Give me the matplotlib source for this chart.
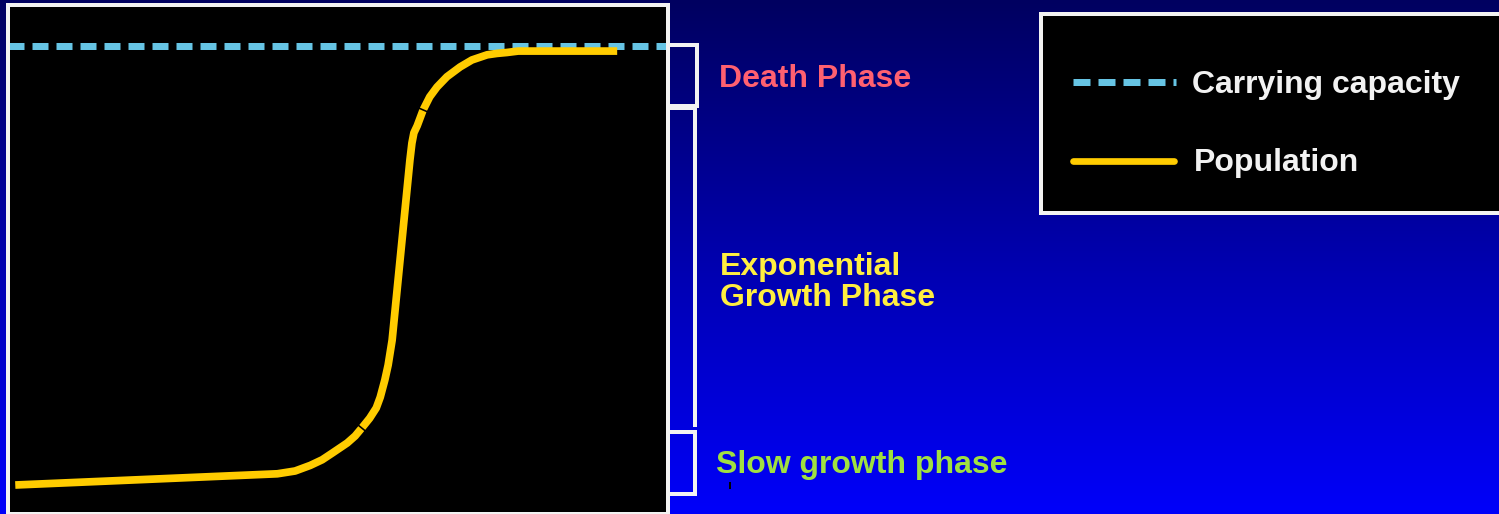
import matplotlib
import matplotlib.pyplot as plt
import matplotlib.transforms as mtransforms
import numpy as np
from matplotlib.lines import Line2D
from matplotlib.patches import Rectangle

matplotlib.use("Agg")

plt.rcParams["font.family"] = ["Liberation Sans", "DejaVu Sans"]
plt.rcParams["lines.scale_dashes"] = False

W, H = 1499, 514
PT = 72 / 100  # points per pixel at dpi=100

# population over time (arbitrary units), carrying capacity K
time = [1.1, 40.8, 43.5, 45.8, 47.6, 49.2, 51.4, 52.6, 53.6, 54.8,
        55.8, 56.4, 57.1, 57.6, 58.2, 60.9, 61.2, 61.5, 62.0, 62.9,
        63.9, 65.0, 66.5, 68.5, 70.3, 72.6, 74.1, 75.6, 77.3, 92.3]
population = [61, 85, 91, 103, 115, 130, 151, 166, 183, 204,
              226, 249, 286, 318, 371, 757, 793, 815, 830, 864,
              892, 913, 935, 956, 971, 982, 985, 987, 990, 990]
carrying_capacity = 1000
seam_points = [8, 19]  # where the curve pieces meet

# phase brackets: (top, bottom) in population units
phase_names = ["Death Phase", "Exponential\nGrowth Phase", "Slow growth phase"]
phase_bounds = [(1003, 872), (868, 189), (174, 42)]
phase_colors = ["#FF6070", "#FFEE40", "#A0E040"]

WHITE = "#F2F2F2"
YELLOW = "#FFCC00"
CYAN = "#66C4E4"


def px(x, y):
    """pixel position (from top-left) -> figure fraction"""
    return x / W, 1 - y / H


fig = plt.figure(figsize=(W / 100, H / 100), dpi=100)

# background: navy at the top fading to bright blue
bg = fig.add_axes([0, 0, 1, 1], zorder=-10)
grad = np.linspace(0, 1, 256)[:, None]
blue = 96 + grad * (250 - 96)
img = np.dstack([np.zeros_like(blue), np.zeros_like(blue), blue / 255])
bg.imshow(img, aspect="auto", extent=[0, 1, 0, 1], origin="upper")
bg.axis("off")

# ── main plot ────────────────────────────────────────────────────────────────
ax = fig.add_axes([8 / W, 1 - 513.5 / H, 660 / W, 508.2 / H])
ax.set_facecolor("black")
for s in ax.spines.values():
    s.set_color(WHITE)
    s.set_linewidth(4 * PT)
ax.set_xticks([])
ax.set_yticks([])
ax.set_xlim(0, 100)
ax.set_ylim(0, 1088)

ax.axhline(carrying_capacity, color=CYAN, lw=7 * PT,
           dashes=(16 * PT, 8 * PT), zorder=2)
ax.plot(time, population, color=YELLOW, lw=7.7 * PT,
        solid_capstyle="butt", solid_joinstyle="round", zorder=3)

# thin dark seams across the curve
pts = ax.transData.transform(np.column_stack([time, population]))
for i in seam_points:
    d = pts[i + 1] - pts[i - 1]
    n = np.array([-d[1], d[0]]) / np.hypot(*d) * 5.5
    a, b = pts[i] - n, pts[i] + n
    ax.add_line(Line2D([a[0], b[0]], [a[1], b[1]], transform=None,
                       color="black", lw=1.6 * PT, zorder=4))

# brackets to the right of the plot
tr = mtransforms.blended_transform_factory(ax.transAxes, ax.transData)
for i, (top, bot) in enumerate(phase_bounds):
    xr = 1.044 if i == 0 else 1.041
    if i == 1:
        xs, ys = [1.0, xr, xr], [top, top, bot]
    else:
        xs, ys = [1.0, xr, xr, 1.0], [top, top, bot, bot]
    ax.add_line(Line2D(xs, ys, transform=tr, color=WHITE, lw=4 * PT,
                       clip_on=False, solid_joinstyle="miter"))

# phase labels
label_pos = [(719, 86.7), (720, 275), (716, 473)]
for name, color, (x, y) in zip(phase_names, phase_colors, label_pos):
    for k, line in enumerate(name.split("\n")):
        fig.text(*px(x, y + k * 30.7), line, color=color, fontsize=23,
                 fontweight="bold", ha="left", va="baseline")

fig.add_artist(Line2D(*zip(px(730, 482.5), px(730, 487.5)),
                      color="black", lw=2 * PT))

# ── legend ───────────────────────────────────────────────────────────────────
x0, y0 = px(1040.5, 212.8)
x1, y1 = px(1520, 13.7)
fig.add_artist(Rectangle((x0, y0), x1 - x0, y1 - y0, transform=fig.transFigure,
                         facecolor="black", edgecolor=WHITE, lw=4 * PT,
                         clip_on=False))
fig.add_artist(Line2D(*zip(px(1073.3, 82.3), px(1176, 82.3)), color=CYAN,
                      lw=7 * PT, dashes=(17 * PT, 8 * PT)))
fig.add_artist(Line2D(*zip(px(1072.5, 161.3), px(1173.5, 161.3)), color=YELLOW,
                      lw=6.7 * PT, solid_capstyle="round"))
fig.text(*px(1192, 93.3), "Carrying capacity", color=WHITE, fontsize=23,
         fontweight="bold", ha="left", va="baseline")
fig.text(*px(1194, 170.7), "Population", color=WHITE, fontsize=23,
         fontweight="bold", ha="left", va="baseline")

fig.savefig("out.png", dpi=100)
